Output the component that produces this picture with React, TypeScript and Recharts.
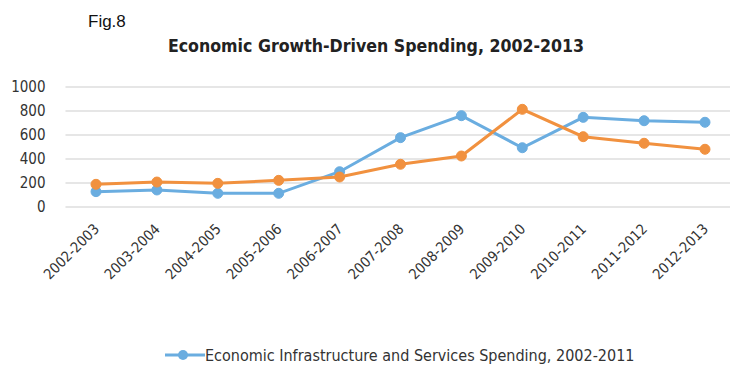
import React from "react"
import {
  LineChart,
  Line,
  XAxis,
  YAxis,
  CartesianGrid,
  Legend,
} from "recharts"

// periods on the x axis
const periods = [
  "2002-2003",
  "2003-2004",
  "2004-2005",
  "2005-2006",
  "2006-2007",
  "2007-2008",
  "2008-2009",
  "2009-2010",
  "2010-2011",
  "2011-2012",
  "2012-2013",
]

// blue series (shown in legend)
const infrastructure = [128, 142, 114, 114, 294, 578, 761, 494, 747, 719, 706]
// orange series (legend entry cut off in the original)
const growthDriven = [189, 208, 197, 222, 250, 356, 425, 814, 586, 531, 481]

const yTicks = [0, 200, 400, 600, 800, 1000]

const BLUE = "#6aade0"
const ORANGE = "#f1913f"
const FONT = "'DejaVu Sans Condensed', sans-serif"

const data = periods.map((p, i) => ({
  period: p,
  infra: infrastructure[i],
  growth: growthDriven[i],
}))

const AngledTick = (props: any) => {
  const { x, y, payload } = props
  return (
    <text
      x={x + 4}
      y={y}
      textAnchor="end"
      transform={`rotate(-45, ${x + 4}, ${y})`}
      fontFamily={FONT}
      fontSize={14.5}
      fill="#333"
    >
      {payload.value}
    </text>
  )
}

const LegendBox = () => (
  <div style={{ display: "flex", alignItems: "center", height: 20 }}>
    <svg width={40} height={20}>
      <line x1={0} y1={10} x2={40} y2={10} stroke={BLUE} strokeWidth={3} />
      <circle cx={18} cy={10} r={5} fill={BLUE} />
    </svg>
    <span style={{ fontFamily: FONT, fontSize: 16, color: "#333", whiteSpace: "nowrap" }}>
      Economic Infrastructure and Services Spending, 2002-2011
    </span>
  </div>
)

export default function App() {
  return (
    <div style={{ position: "absolute", left: 0, top: 0, width: 730, height: 366, overflow: "hidden", background: "#fff" }}>
      <div style={{ position: "absolute", left: 88, top: 12, fontFamily: "'Liberation Sans', Arial, sans-serif", fontSize: 17, color: "#111" }}>
        Fig.8
      </div>
      <div
        style={{
          position: "absolute",
          left: 0,
          top: 36,
          width: 752,
          textAlign: "center",
          fontFamily: FONT,
          fontWeight: "bold",
          fontSize: 17.6,
          color: "#222",
        }}
      >
        Economic Growth-Driven Spending, 2002-2013
      </div>
      <LineChart
        width={738}
        height={366}
        data={data}
        margin={{ top: 87, right: 2.5, left: 0, bottom: 1 }}
      >
        <CartesianGrid vertical={false} stroke="#e6e6e6" strokeWidth={2} />
        <XAxis
          dataKey="period"
          axisLine={false}
          tickLine={false}
          interval={0}
          height={138}
          padding={{ left: 30.5, right: 30.5 }}
          tickSize={0}
          tick={<AngledTick />}
          tickMargin={23}
        />
        <YAxis
          domain={[0, 1000]}
          ticks={yTicks}
          interval={0}
          width={65.5}
          axisLine={false}
          tickLine={false}
          tickSize={0}
          tickMargin={20}
          tick={{ fontFamily: FONT, fontSize: 15, fill: "#333" }}
        />
        <Legend
          verticalAlign="bottom"
          content={<LegendBox />}
          wrapperStyle={{ left: 165, width: 500, bottom: 1 }}
        />
        <Line
          dataKey="infra"
          name="Economic Infrastructure and Services Spending, 2002-2011"
          stroke={BLUE}
          strokeWidth={3}
          dot={{ r: 5, fill: BLUE, stroke: BLUE, strokeWidth: 1 }}
          isAnimationActive={false}
        />
        <Line
          dataKey="growth"
          name="Economic Growth-Driven Spending"
          legendType="none"
          stroke={ORANGE}
          strokeWidth={3}
          dot={{ r: 5, fill: ORANGE, stroke: ORANGE, strokeWidth: 1 }}
          isAnimationActive={false}
        />
      </LineChart>
    </div>
  )
}
